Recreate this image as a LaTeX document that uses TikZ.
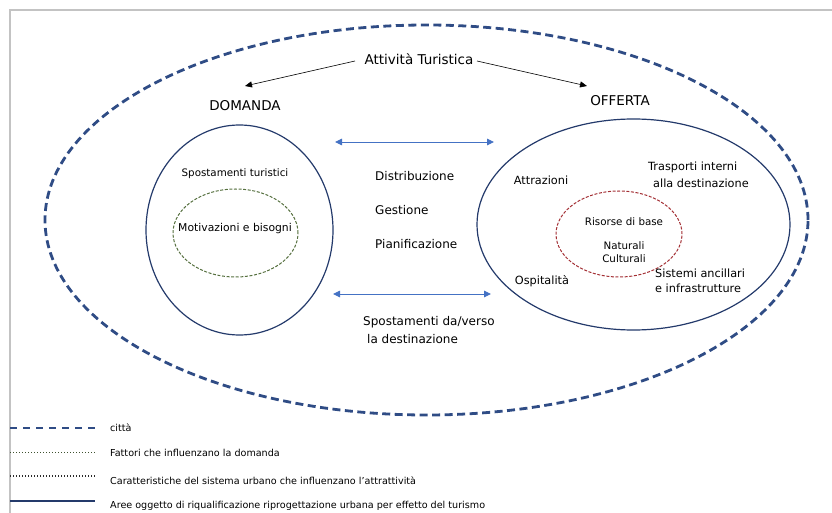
\documentclass[tikz,border=0pt]{standalone}
\usepackage{fontspec}
\setmainfont{DejaVu Sans}
\usetikzlibrary{arrows.meta,shapes.geometric}
\definecolor{cityblue}{HTML}{2F4C85}
\definecolor{navy}{HTML}{243A6B}
\definecolor{olivegreen}{HTML}{56703F}
\definecolor{maroonred}{HTML}{A33035}
\definecolor{arrblue}{HTML}{4472C4}
\definecolor{framegray}{HTML}{C3C3C3}
\definecolor{dotdark}{HTML}{2A2A2A}
\definecolor{dotgreen}{HTML}{3E5230}
\begin{document}
\begin{tikzpicture}[x=1pt,y=-1pt,
  txt/.style={inner sep=0pt, text=black},
  big/.style={txt, font=\fontsize{13.5}{15}\selectfont},
  mid/.style={txt, font=\fontsize{12}{14}\selectfont},
  inn/.style={txt, font=\fontsize{11.3}{13}\selectfont},
  sml/.style={txt, font=\fontsize{10.3}{12}\selectfont},
  leg/.style={txt, anchor=west, font=\fontsize{9.6}{11}\selectfont},
  oval/.style={ellipse, inner sep=0pt, outer sep=0pt},
  cityline/.style={draw=cityblue, line width=2.8pt, dash pattern=on 8pt off 4.5pt},
  arealine/.style={draw=navy, line width=1.2pt},
  greenline/.style={draw=olivegreen, line width=1pt, dash pattern=on 3pt off 1.6pt},
  redline/.style={draw=maroonred, line width=1pt, dash pattern=on 3pt off 1.6pt},
  blackarrow/.style={draw=black, line width=0.6pt, -{Triangle[length=7pt,width=6pt]}},
  bluearrow/.style={draw=arrblue, line width=0.9pt, {Triangle[length=7pt,width=6.5pt]}-{Triangle[length=7pt,width=6.5pt]}},
  framestyle/.style={draw=framegray, line width=2pt},
  legdots/.style={line width=1.6pt, dash pattern=on 1.4pt off 1.6pt}
]
\useasboundingbox (0,0) rectangle (832,513);
% frame
\coordinate (f1) at (9.5,513);
\coordinate (f2) at (9.5,10.5);
\coordinate (f3) at (832,10.5);
\draw[framestyle] (f1) -- (f2) -- (f3);

% ellipses
\node[oval, cityline, minimum width=763pt, minimum height=390pt] (city) at (426.5,220) {};
\node[oval, arealine, minimum width=187pt, minimum height=210pt] (dom) at (239.5,230) {};
\node[oval, greenline, minimum width=125pt, minimum height=88pt] (mot) at (235.5,233) {};
\node[oval, arealine, minimum width=313pt, minimum height=211pt] (off) at (633.5,224.5) {};
\node[oval, redline, minimum width=126pt, minimum height=86pt] (ris) at (619,234) {};

% top labels
\node[big] (att) at (419,59) {Attività Turistica};
\node[big] (domt) at (245,106) {DOMANDA};
\node[big] (offt) at (620,101) {OFFERTA};
\coordinate (attl) at (355,61);
\coordinate (attr) at (477,61);
\coordinate (doma) at (245,86);
\coordinate (offa) at (587,86);
\draw[blackarrow] (attl) -- (doma);
\draw[blackarrow] (attr) -- (offa);

% domanda
\node[sml] (spt) at (235,174) {Spostamenti turistici};
\node[inn, font=\fontsize{10.8}{12}\selectfont] (motv) at (235,229) {Motivazioni e bisogni};

% middle
\coordinate (a1) at (335,142);
\coordinate (a2) at (494,142);
\coordinate (b1) at (333,294);
\coordinate (b2) at (491,294);
\draw[bluearrow] (a1) -- (a2);
\draw[bluearrow] (b1) -- (b2);
\node[mid, anchor=west] (dis) at (375,176) {Distribuzione};
\node[mid, anchor=west] (ges) at (375,210) {Gestione};
\node[mid, anchor=west] (pia) at (375,244) {Pianificazione};
\node[mid, anchor=west] (spd1) at (363,322) {Spostamenti da/verso};
\node[mid, anchor=west] (spd2) at (367,339) {la destinazione};

% offerta
\node[inn] (attr2) at (541,180) {Attrazioni};
\node[inn, anchor=west] (tr1) at (648,167) {Trasporti interni};
\node[inn, anchor=west] (tr2) at (653,183) {alla destinazione};
\node[inn] (osp) at (542,281) {Ospitalità};
\node[inn, anchor=west] (si1) at (655,273) {Sistemi ancillari};
\node[inn, anchor=west] (si2) at (655,288) {e infrastrutture};
\node[sml] (rdb) at (624,222) {Risorse di base};
\node[sml] (nat) at (624,246) {Naturali};
\node[sml] (cul) at (624,259) {Culturali};

% legend
\coordinate (l1a) at (10,428);  \coordinate (l1b) at (95,428);
\coordinate (l2a) at (10,452.5);\coordinate (l2b) at (95,452.5);
\coordinate (l3a) at (10,476);  \coordinate (l3b) at (95,476);
\coordinate (l4a) at (10,501);  \coordinate (l4b) at (95,501);
\draw[draw=cityblue, line width=1.8pt, dash pattern=on 7pt off 6pt] (l1a) -- (l1b);
\draw[draw=dotgreen, legdots] (l2a) -- (l2b);
\draw[draw=dotdark, legdots] (l3a) -- (l3b);
\draw[draw=navy, line width=1.8pt] (l4a) -- (l4b);
\node[leg] (lg1) at (110,428) {città};
\node[leg] (lg2) at (110,453) {Fattori che influenzano la domanda};
\node[leg] (lg3) at (110,481) {Caratteristiche del sistema urbano che influenzano l'attrattività};
\node[leg] (lg4) at (110,506) {Aree oggetto di riqualificazione riprogettazione urbana per effetto del turismo};
\end{tikzpicture}
\end{document}
